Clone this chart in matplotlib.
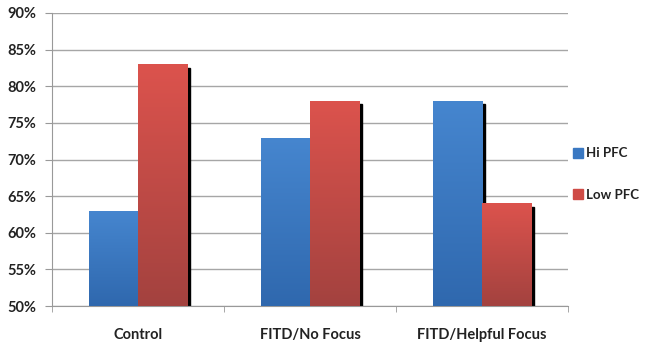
import numpy as np
import matplotlib.pyplot as plt
from matplotlib.colors import LinearSegmentedColormap
from matplotlib.ticker import FuncFormatter

categories = ['Control', 'FITD/No Focus', 'FITD/Helpful Focus']
hi_pfc = [63, 73, 78]
low_pfc = [83, 78, 64]
series_names = ['Hi PFC', 'Low PFC']

plt.rcParams['font.family'] = ['Lato', 'DejaVu Sans']

fig = plt.figure(figsize=(6.47, 3.42), dpi=100)
ax = fig.add_axes([52 / 647, 1 - 306 / 342, 516 / 647, 293 / 342])

x = np.arange(len(categories))
width = 0.285
base = 50

blue_cmap = LinearSegmentedColormap.from_list('blue', ['#2f68ae', '#4686cf'])
red_cmap = LinearSegmentedColormap.from_list('red', ['#a3423f', '#dc534d'])
grad = np.linspace(0, 1, 256).reshape(-1, 1)

def gradient_bars(xs, values, cmap):
    bars = ax.bar(xs, np.array(values) - base, width, bottom=base,
                  color='none', edgecolor='none', zorder=3)
    for rect in bars:
        bx, by = rect.get_x(), rect.get_y()
        bw, bh = rect.get_width(), rect.get_height()
        # dark drop shadow offset to the lower right
        ax.add_patch(plt.Rectangle((bx + 0.018, by), bw, bh - 0.45,
                                   color='black', zorder=2))
        im = ax.imshow(grad, extent=[bx, bx + bw, by, by + bh], origin='lower',
                       aspect='auto', cmap=cmap, zorder=3)
        im.set_clip_path(rect)
    return bars

gradient_bars(x - width / 2, hi_pfc, blue_cmap)
gradient_bars(x + width / 2, low_pfc, red_cmap)

ax.set_xlim(-0.5, len(categories) - 0.5)
ax.set_ylim(50, 90)
ax.set_yticks(range(50, 91, 5))
ax.yaxis.set_major_formatter(FuncFormatter(lambda v, p: f'{v:.0f}%'))
ax.set_xticks(x)
ax.set_xticklabels(categories)
ax.set_xticks(np.arange(len(categories) + 1) - 0.5, minor=True)
ax.tick_params(axis='x', which='major', length=0, pad=16)
ax.tick_params(axis='x', which='minor', length=4, color='#999999', direction='out')
ax.tick_params(axis='y', length=5, color='#999999', pad=6)
ax.tick_params(labelsize=10.5, labelcolor='#222222')
for lbl in ax.get_xticklabels() + ax.get_yticklabels():
    lbl.set_fontweight('bold')

ax.grid(axis='y', color='#a6a6a6', linewidth=1, zorder=0)
ax.set_axisbelow(True)
for side in ['top', 'right']:
    ax.spines[side].set_visible(False)
for side in ['left', 'bottom']:
    ax.spines[side].set_color('#999999')

handles = [plt.Rectangle((0, 0), 1, 1, color=c) for c in ['#3a78c2', '#cf4b46']]
fig.legend(handles, series_names, loc='center left', bbox_to_anchor=(570 / 647, 1 - 174 / 342),
           frameon=False, prop={'size': 9.5, 'weight': 'bold'}, handlelength=0.75,
           handleheight=0.75, handletextpad=0.25, labelspacing=2.2, labelcolor='#222222',
           borderaxespad=0, borderpad=0.2)

fig.savefig('out.png', dpi=100)
